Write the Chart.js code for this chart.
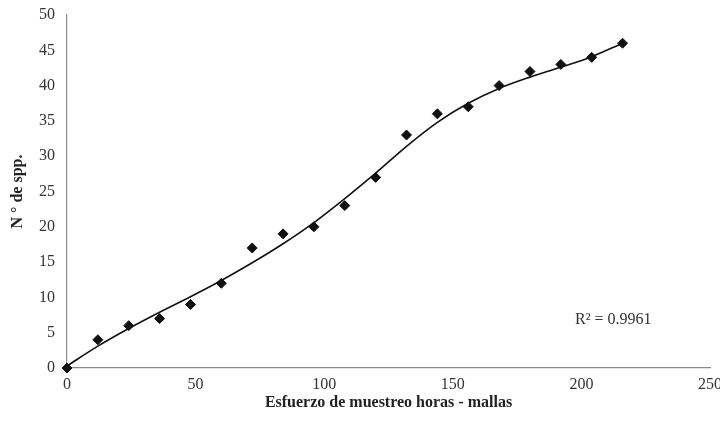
<!DOCTYPE html>
<html>
<head>
<meta charset="utf-8">
<script src="https://cdn.jsdelivr.net/npm/chart.js@4"></script>
<style>
  body { margin: 0; background: #fff; }
  #wrap { width: 720px; height: 426px; }
</style>
</head>
<body>
<div id="wrap"><canvas id="especies_canvas"></canvas></div>
<script>
// esfuerzo (horas - mallas) y numero de especies acumuladas
const esfuerzo = [0, 12, 24, 36, 48, 60, 72, 84, 96, 108, 120, 132, 144, 156, 168, 180, 192, 204, 216];
const especies = [0, 4, 6, 7, 9, 12, 17, 19, 20, 23, 27, 33, 36, 37, 40, 42, 43, 44, 46];
// linea de tendencia
const tendencia = [0.3, 3.1, 5.6, 7.9, 10.1, 12.4, 14.9, 17.6, 20.6, 24.0, 27.6, 31.4, 34.8, 37.5, 39.6, 41.2, 42.6, 44.1, 46.0];
const xTicks = [0, 50, 100, 150, 200, 250];
const yTicks = [0, 5, 10, 15, 20, 25, 30, 35, 40, 45, 50];
const r2Text = 'R² = 0.9961';

const serif = "'Liberation Serif', 'Times New Roman', serif";

// texto del R2 sobre el grafico
const r2Label = {
    id: 'r2Label',
    afterDraw(chart) {
        const ctx = chart.ctx;
        ctx.save();
        ctx.font = '16px ' + serif;
        ctx.fillStyle = '#333';
        ctx.textAlign = 'left';
        ctx.textBaseline = 'middle';
        ctx.fillText(r2Text, chart.scales.x.getPixelForValue(197.5), chart.scales.y.getPixelForValue(6.8));
        ctx.restore();
    }
};

const canvas = document.getElementById('especies_canvas');
const grafico = new Chart(canvas, {
    type: 'scatter',
    data: {
        datasets: [{
            label: 'Tendencia',
            data: esfuerzo.map((x, i) => ({x: x, y: tendencia[i]})),
            showLine: true,
            borderColor: '#111',
            borderWidth: 1.6,
            pointRadius: 0,
            cubicInterpolationMode: 'monotone',
            clip: false,
            order: 2
        }, {
            label: 'N de spp.',
            data: esfuerzo.map((x, i) => ({x: x, y: especies[i]})),
            pointStyle: 'rectRot',
            pointRadius: 5,
            backgroundColor: '#111',
            borderColor: '#111',
            borderWidth: 1,
            clip: false,
            order: 1
        }]
    },
    options: {
        responsive: true,
        maintainAspectRatio: false,
        animation: false,
        layout: { padding: { top: 15, right: 0, left: 0, bottom: 0 } },
        plugins: {
            legend: { display: false },
            tooltip: { enabled: false }
        },
        scales: {
            x: {
                type: 'linear',
                min: 0,
                max: 250,
                afterBuildTicks: (scale) => { scale.ticks = xTicks.map(v => ({value: v})); },
                afterFit: (scale) => { scale.height = 58; scale.paddingRight = 10; },
                grid: { display: false, drawTicks: false },
                border: { display: true, color: '#8a8a8a', width: 1.2 },
                ticks: {
                    color: '#333',
                    padding: 7,
                    maxRotation: 0,
                    font: { family: serif, size: 16 }
                },
                title: {
                    display: true,
                    text: 'Esfuerzo de muestreo horas - mallas',
                    color: '#222',
                    padding: { top: 0, bottom: 14 },
                    font: { family: serif, size: 16, weight: 'bold' }
                }
            },
            y: {
                type: 'linear',
                min: 0,
                max: 50,
                afterBuildTicks: (scale) => { scale.ticks = yTicks.map(v => ({value: v})); },
                afterFit: (scale) => { scale.width = 67; scale.paddingTop = 0; },
                grid: { display: false, drawTicks: false },
                border: { display: true, color: '#8a8a8a', width: 1.2 },
                ticks: {
                    color: '#333',
                    padding: 12,
                    font: { family: serif, size: 16 }
                },
                title: {
                    display: true,
                    text: 'N ° de spp.',
                    color: '#222',
                    padding: { top: 8, bottom: 0 },
                    font: { family: serif, size: 16, weight: 'bold' }
                }
            }
        }
    },
    plugins: [r2Label]
});
</script>
</body>
</html>
